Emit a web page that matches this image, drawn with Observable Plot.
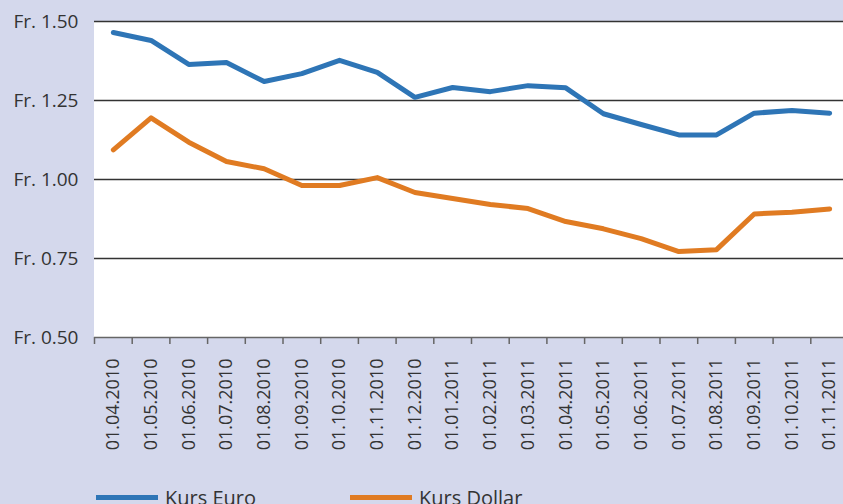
<!DOCTYPE html>
<html>
<head>
<meta charset="utf-8">
<script src="https://cdn.jsdelivr.net/npm/d3@7"></script>
<script src="https://cdn.jsdelivr.net/npm/@observablehq/plot@0.6"></script>
<style>
  html, body { margin: 0; padding: 0; background: #d4d8ec; overflow: hidden; }
  #chart svg { display: block; overflow: visible; }
  .legend { position: relative; height: 40px; margin-top: 14px; font-family: "Open Sans", sans-serif; font-size: 20px; color: #333; }
  .item { position: absolute; top: 0; display: flex; align-items: center; }
  .sw { width: 62px; height: 5px; margin-right: 7px; }
</style>
</head>
<body>
<div id="chart"></div>
<div class="legend">
  <div class="item" style="left:96px"><span class="sw" style="background:#2e75b6"></span><span>Kurs Euro</span></div>
  <div class="item" style="left:350px"><span class="sw" style="background:#e07b22"></span><span>Kurs Dollar</span></div>
</div>
<script>
const dates = ["01.04.2010","01.05.2010","01.06.2010","01.07.2010","01.08.2010","01.09.2010","01.10.2010","01.11.2010","01.12.2010",
  "01.01.2011","01.02.2011","01.03.2011","01.04.2011","01.05.2011","01.06.2011","01.07.2011","01.08.2011","01.09.2011","01.10.2011","01.11.2011"];
const euro = [1.465,1.44,1.364,1.37,1.31,1.335,1.377,1.339,1.26,1.291,1.278,1.297,1.290,1.208,1.174,1.141,1.141,1.21,1.218,1.21];
const dollar = [1.094,1.195,1.118,1.057,1.034,0.981,0.981,1.006,0.959,0.94,0.921,0.908,0.867,0.844,0.813,0.772,0.778,0.891,0.896,0.907];
const yTicks = [0.5,0.75,1.0,1.25,1.5];
const gridTicks = [0.75,1.0,1.25,1.5];

const rows = (vals) => vals.map((v, i) => ({i: i + 0.5, v, d: dates[i]}));
const tickPos = d3.range(0, dates.length + 1);

const plot = Plot.plot({
  width: 843,
  height: 470,
  marginLeft: 94,
  marginTop: 21,
  marginBottom: 133,
  marginRight: 0,
  style: {background: "transparent", fontFamily: "'Open Sans', sans-serif", color: "#333"},
  x: {type: "linear", domain: [0, dates.length], range: [94, 848]},
  y: {type: "linear", domain: [0.5, 1.5], axis: null},
  marks: [
    Plot.rect([0], {x1: 0, x2: dates.length, y1: 0.5, y2: 1.5, fill: "white"}),
    Plot.ruleY(gridTicks, {stroke: "#333", strokeWidth: 1.3}),
    Plot.ruleY([0.5], {stroke: "#666", strokeWidth: 1.5}),
    Plot.axisX(tickPos, {tickSize: 7, tickFormat: () => "", stroke: "#666", strokeWidth: 1.5, label: null}),
    Plot.line(rows(euro), {x: "i", y: "v", stroke: "#2e75b6", strokeWidth: 5, strokeLinejoin: "round", strokeLinecap: "round"}),
    Plot.line(rows(dollar), {x: "i", y: "v", stroke: "#e07b22", strokeWidth: 5, strokeLinejoin: "round", strokeLinecap: "round"}),
    Plot.text(yTicks, {x: 0, y: d => d, text: d => "Fr. " + d.toFixed(2), textAnchor: "end", dx: -16, fontSize: 19, fill: "#333"}),
    Plot.text(rows(euro), {x: "i", y: 0.5, text: "d", rotate: -90, textAnchor: "end", dy: 21, fontSize: 18, fill: "#333"})
  ]
});
document.getElementById("chart").append(plot);
</script>
</body>
</html>
